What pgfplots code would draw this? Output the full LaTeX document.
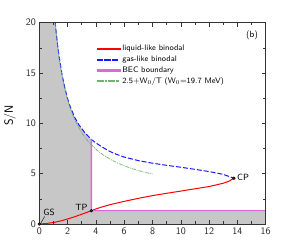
\documentclass[border=0pt]{standalone}
\usepackage{pgfplots}
\pgfplotsset{compat=1.18}
\definecolor{bec}{rgb}{0.87,0.4,0.87}
\definecolor{wgreen}{rgb}{0.45,0.7,0.45}
\definecolor{shade}{rgb}{0.78,0.78,0.78}
\definecolor{lred}{rgb}{1,0,0}
\definecolor{gblue}{rgb}{0.1,0.1,1}
\begin{document}
\begin{tikzpicture}
\useasboundingbox (-39.3bp,-23bp) rectangle (247.7bp,224bp);
\begin{axis}[
  scale only axis, width=226.4bp, height=201.3bp,
  xmin=0, xmax=16, ymin=0, ymax=20,
  xtick={0,2,...,16}, ytick={0,5,...,20},
  minor x tick num=1, minor y tick num=1,
  tick align=inside, major tick length=4bp, minor tick length=2.5bp,
  axis line style={line width=0.8pt, black!80},
  every tick/.style={black!80, line width=0.6pt},
  font=\sffamily,
  tick label style={font=\sffamily, black!85},
  /pgf/number format/assume math mode=true,
  ylabel={S/N},
  ylabel style={font=\sffamily\large, at={(axis description cs:-0.13,0.54)}, anchor=center},
  legend style={draw=none, fill=none, font=\sffamily\footnotesize, at={(rel axis cs:0.2535,0.899)}, anchor=north west, row sep=-0.3pt, inner sep=0pt},
  legend cell align=left,
  axis on top,
]
\addlegendimage{legend image code/.code={\fill[lred] (0bp,-0.55pt) rectangle (23bp,0.55pt);}}
\addlegendentry{liquid-like binodal}
\addlegendimage{legend image code/.code={\foreach \s in {0,7.5,15}{\fill[gblue] (\s bp,-0.55pt) rectangle (\s bp+5.5bp,0.55pt);}}}
\addlegendentry{gas-like binodal}
\addlegendimage{legend image code/.code={\fill[bec] (0bp,-0.55pt) rectangle (23bp,0.55pt);}}
\addlegendentry{BEC boundary}
\addlegendimage{legend image code/.code={\fill[wgreen] (0bp,-0.5pt) rectangle (6bp,0.5pt); \fill[wgreen] (8bp,-0.5pt) rectangle (9.5bp,0.5pt); \fill[wgreen] (11.5bp,-0.5pt) rectangle (17.5bp,0.5pt); \fill[wgreen] (19.5bp,-0.5pt) rectangle (21bp,0.5pt);}}
\addlegendentry{2.5+W$_0$/T (W$_0$=19.7 MeV)}
% shaded region
\addplot[fill=shade, draw=none, forget plot] coordinates {
 (0,0) (0,20) (1.12,20.1) (1.2,18.95) (1.3,17.7) (1.4,16.65) (1.6,14.9) (1.8,13.55)
 (2.0,12.45) (2.2,11.6) (2.5,10.6) (2.8,9.85) (3.2,9.1) (3.68,8.4) (3.68,1.32)
 (16,1.32) (16,0)
};
\addplot[lred, line width=1pt, forget plot] coordinates {
 (0,0) (0.5,0.05) (1,0.15) (1.5,0.3) (2,0.5) (2.5,0.72) (3,0.97) (3.68,1.32)
 (4,1.5) (4.5,1.72) (5,1.92) (6,2.25) (7,2.55) (8,2.82) (9,3.05) (10,3.27)
 (11,3.5) (12,3.72) (13,4.05) (13.4,4.25) (13.75,4.55)
};
\addplot[gblue, line width=1pt, dash pattern=on 5pt off 2pt, forget plot] coordinates {
 (1.12,20.1) (1.2,18.95) (1.3,17.7) (1.4,16.65) (1.6,14.9) (1.8,13.55)
 (2.0,12.45) (2.2,11.6) (2.5,10.6) (2.8,9.85) (3.2,9.1) (3.68,8.4)
 (4.0,8.05) (4.5,7.6) (5.0,7.2) (5.5,6.9) (6.0,6.65) (7.0,6.3) (8.0,6.04)
 (9.0,5.83) (10.0,5.64) (11.0,5.43) (12.0,5.21) (13.0,4.93) (13.75,4.55)
};
% BEC boundary, drawn as a thin filled band
\addplot[fill=bec, draw=none, forget plot] coordinates {
 (3.62,8.4) (3.74,8.4) (3.74,1.37) (16,1.37) (16,1.27) (3.62,1.27)
};
\addplot[wgreen, line width=0.7pt, dash pattern=on 4pt off 1pt on 1pt off 1pt, forget plot] coordinates {
 (1.1,20.41) (1.2,18.92) (1.3,17.65) (1.4,16.57) (1.5,15.63) (1.6,14.81) (1.8,13.44)
 (2.0,12.35) (2.2,11.45) (2.4,10.71) (2.6,10.08) (2.8,9.54) (3.0,9.07) (3.3,8.47)
 (3.6,7.97) (4.0,7.43) (4.5,6.88) (5.0,6.44) (5.5,6.08) (6.0,5.78) (6.5,5.53)
 (7.0,5.31) (7.5,5.13) (8.0,4.96)
};
\addplot[only marks, mark=*, mark size=1.4pt, mark options={fill=red!70!black, draw=black, line width=0.5pt}, forget plot] coordinates {
 (0,0) (3.68,1.32) (13.75,4.55)
};
\draw[black, line width=0.4pt] (axis cs:0.12,0.12) -- (axis cs:0.38,0.75);
\node[anchor=south west, inner sep=0pt, font=\sffamily\small] at (axis cs:0.28,0.85) {GS};
\node[anchor=east, inner sep=1pt, font=\sffamily\small] at (axis cs:3.5,1.7) {TP};
\node[anchor=west, inner sep=1pt, font=\sffamily\small] at (axis cs:13.9,4.65) {CP};
\node[font=\sffamily\small] at (axis cs:15.03,18.8) {(b)};
\end{axis}
\end{tikzpicture}
\end{document}
